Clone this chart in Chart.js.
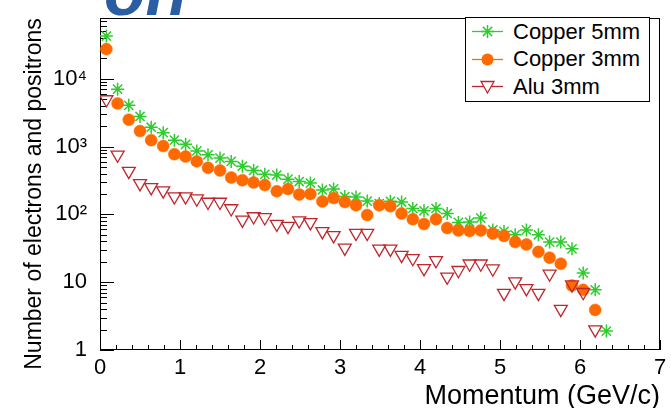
<!DOCTYPE html>
<html>
<head>
<meta charset="utf-8">
<script src="https://cdn.jsdelivr.net/npm/chart.js@4.4.1/dist/chart.umd.min.js"></script>
<style>
  body { margin: 0; background: #fff; overflow: hidden; }
  #wrap { position: relative; width: 671px; height: 408px; }
  #frag { position: absolute; left: 104px; top: -43px; font: italic bold 68px "Liberation Sans", Arial, sans-serif; color: #2b5da3; line-height: 68px; z-index: 3; }
  #legend { position: absolute; left: 465px; top: 17px; width: 183px; height: 83px; border: 1px solid #000; background: #fff; z-index: 2; font: 22px "Liberation Sans", Arial, sans-serif; color: #000; }
  #legend .row { height: 27.5px; display: flex; align-items: center; }
  #legend svg { width: 40px; height: 27px; margin-right: 7px; flex: none; }
</style>
</head>
<body>
<div id="wrap">
  <canvas id="chart" width="671" height="408"></canvas>
  <div id="frag">on</div>
  <div id="legend"></div>
</div>
<script>
var momentum = [0.08, 0.22, 0.36, 0.50, 0.64, 0.79, 0.93, 1.07, 1.21, 1.35, 1.50, 1.64, 1.78, 1.92, 2.06, 2.21, 2.35, 2.49, 2.63, 2.78, 2.92, 3.06, 3.20, 3.34, 3.49, 3.63, 3.77, 3.91, 4.05, 4.20, 4.34, 4.48, 4.62, 4.76, 4.91, 5.05, 5.19, 5.33, 5.48, 5.62, 5.76, 5.90, 6.04, 6.19, 6.33];

var copper5 = [42500, 7020, 4050, 2775, 1927, 1600, 1241, 1076, 861, 755, 676, 604,
  512, 444, 389, 380, 330, 305, 289, 229, 237, 183, 180, 157,
  144, 156, 152, 122, 113, 122, 103, 76, 77, 88, 59, 56, 50,
  59, 50, 39, 39, 31, 13.7, 7.7, 1.9];

var copper3 = [27300, 4325, 2487, 1688, 1241, 1017, 772, 713, 604, 486, 444, 349,
  319, 295, 270, 219, 237, 196, 200, 155, 174, 152, 136, 98,
  136, 132, 103, 85, 72, 85, 63, 58, 57, 58, 52, 48, 39,
  36, 28, 23, 18.7, 8.9, 7.7, 3.9];

var alu3 = [4940, 755, 434, 286, 250, 224, 183, 183, 170, 152, 152, 122,
  83, 93, 90, 72, 67, 81, 76, 56, 49, 32, 53, 53,
  31, 31, 25, 22.5, 16, 21, 12, 15, 18.7, 18.7, 15.8, 6.9, 10.2,
  8.1, 6.9, 13.3, 4.0, 9.2, 7.1, 2.0];

var seriesNames = ["Copper 5mm", "Copper 3mm", "Alu 3mm"];
var xTickValues = [0, 1, 2, 3, 4, 5, 6, 7];
var yTickValues = [1, 10, 100, 1000, 10000];
var yTickLabels = ["1", "10", "10²", "10³", "10⁴"];

function points(vals) {
  return vals.map(function (v, i) { return { x: momentum[i], y: v }; });
}

// ROOT-like frame with ticks pointing into the plot
var frameTicks = {
  id: "frameTicks",
  beforeDatasetsDraw: function (chart) {
    var ctx = chart.ctx, a = chart.chartArea, x = chart.scales.x, y = chart.scales.y;
    ctx.save();
    ctx.strokeStyle = "#000";
    ctx.lineWidth = 1;
    ctx.beginPath();
    for (var k = 0; k <= 35; k++) {
      var px = Math.round(x.getPixelForValue(k * 0.2)) + 0.5;
      var len = k % 5 === 0 ? 10 : 5;
      ctx.moveTo(px, a.bottom);
      ctx.lineTo(px, a.bottom - len);
    }
    yTickValues.forEach(function (d) {
      for (var m = 1; m < 10; m++) {
        var v = m * d;
        if (v > y.max) break;
        var py = Math.round(y.getPixelForValue(v)) + 0.5;
        ctx.moveTo(a.left, py);
        ctx.lineTo(a.left + (m === 1 ? 14 : 7), py);
      }
    });
    ctx.stroke();
    ctx.strokeRect(Math.round(a.left) + 0.5, Math.round(a.top) + 0.5, Math.round(a.width) - 1, Math.round(a.height) - 1);
    ctx.restore();
  }
};

var ctx = document.getElementById("chart").getContext("2d");
var chart = new Chart(ctx, {
  type: "scatter",
  data: {
    datasets: [
      {
        label: seriesNames[0],
        data: points(copper5),
        pointStyle: "star",
        pointRadius: 6.5,
        borderColor: "#2ecc2e",
        backgroundColor: "#2ecc2e",
        pointBorderWidth: 1.5,
        order: 3
      },
      {
        label: seriesNames[1],
        data: points(copper3),
        pointStyle: "circle",
        pointRadius: 6,
        borderColor: "#ff6a00",
        backgroundColor: "#ff6a00",
        pointBorderWidth: 0.5,
        order: 2
      },
      {
        label: seriesNames[2],
        data: points(alu3),
        pointStyle: "triangle",
        rotation: 180,
        pointRadius: 7.5,
        borderColor: "#c0272d",
        backgroundColor: "rgba(0,0,0,0)",
        pointBorderWidth: 1.3,
        order: 1
      }
    ]
  },
  options: {
    responsive: false,
    animation: false,
    devicePixelRatio: 1,
    events: [],
    layout: { padding: { top: 10, right: 11, left: 0, bottom: 0 } },
    plugins: { legend: { display: false }, tooltip: { enabled: false } },
    scales: {
      x: {
        type: "linear",
        min: 0,
        max: 7,
        afterFit: function (s) { s.height = 58; },
        afterBuildTicks: function (s) { s.ticks = xTickValues.map(function (v) { return { value: v }; }); },
        grid: { display: false },
        border: { display: false },
        ticks: { color: "#000", font: { family: "Liberation Sans", size: 22 }, padding: -3, maxRotation: 0 },
        title: { display: true, text: "Momentum (GeV/c)", align: "end", color: "#000", font: { family: "Liberation Sans", size: 27 }, padding: { top: 0, bottom: -5 } }
      },
      y: {
        type: "logarithmic",
        min: 1,
        max: 78000,
        afterFit: function (s) { s.width = 100; },
        afterBuildTicks: function (s) { s.ticks = yTickValues.map(function (v) { return { value: v }; }); },
        grid: { display: false },
        border: { display: false },
        ticks: {
          color: "#000",
          font: { family: "Liberation Sans", size: 22 },
          padding: 5,
          autoSkip: false,
          callback: function (v) { return yTickLabels[yTickValues.indexOf(v)]; }
        },
        title: { display: true, text: "Number of electrons and positrons", align: "end", color: "#000", font: { family: "Liberation Sans", size: 23 }, padding: { top: 21, bottom: 0 } }
      }
    }
  },
  plugins: [frameTicks]
});

// legend box drawn as HTML, entries taken from the chart's datasets
var icons = [
  '<line x1="6" y1="13.5" x2="37" y2="13.5" stroke="#2ecc2e" stroke-width="1.3"/>' +
    '<g stroke="#2ecc2e" stroke-width="1.5"><line x1="21.5" y1="7" x2="21.5" y2="20"/><line x1="15" y1="13.5" x2="28" y2="13.5"/>' +
    '<line x1="16.9" y1="8.9" x2="26.1" y2="18.1"/><line x1="16.9" y1="18.1" x2="26.1" y2="8.9"/></g>',
  '<line x1="6" y1="13.5" x2="37" y2="13.5" stroke="#ff6a00" stroke-width="1.3"/><circle cx="21.5" cy="13.5" r="6" fill="#ff6a00"/>',
  '<line x1="6" y1="13.5" x2="37" y2="13.5" stroke="#c0272d" stroke-width="1.3"/>' +
    '<polygon points="15,8.5 28,8.5 21.5,20" fill="#fff" stroke="#c0272d" stroke-width="1.3"/>'
];
var legendEl = document.getElementById("legend");
chart.data.datasets.forEach(function (ds, i) {
  var row = document.createElement("div");
  row.className = "row";
  row.innerHTML = '<svg viewBox="0 0 40 27">' + icons[i] + '</svg><span>' + ds.label + '</span>';
  legendEl.appendChild(row);
});
</script>
</body>
</html>
